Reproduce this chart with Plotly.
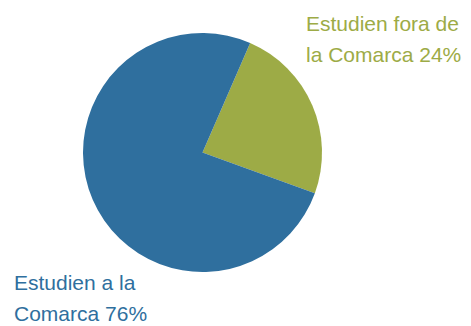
import plotly.graph_objects as go

labels = ["Estudien fora de la Comarca", "Estudien a la Comarca"]
label_lines = [["Estudien fora de", "la Comarca"], ["Estudien a la", "Comarca"]]
values = [24, 76]
colors = ["#9DAB46", "#2F6F9E"]

W, H = 471, 326
cx, cy, r = 202.5, 152.5, 119.5

fig = go.Figure(go.Pie(
    labels=labels,
    values=values,
    marker=dict(colors=colors, line=dict(width=0)),
    sort=False,
    direction="clockwise",
    rotation=23.5,
    textinfo="none",
    hoverinfo="label+percent",
    showlegend=False,
    domain=dict(x=[(cx - r) / W, (cx + r) / W], y=[(H - cy - r) / H, (H - cy + r) / H]),
))

font_family = "Liberation Sans, Arial, sans-serif"
fs = 21
# (left x, baseline of line 1, baseline of line 2)
positions = [(305, 31, 62), (13, 290, 321)]
for lines, v, col, (x, b1, b2) in zip(label_lines, values, colors, positions):
    texts = [lines[0], f"{lines[1]} {v}%"]
    for t, b in zip(texts, (b1, b2)):
        fig.add_annotation(
            text=t,
            x=x / W, y=1 - (b - 7.5) / H, xref="paper", yref="paper",
            xanchor="left", yanchor="middle", align="left", showarrow=False,
            font=dict(family=font_family, size=fs, color=col),
            borderpad=0,
        )

fig.update_layout(
    width=W, height=H,
    margin=dict(l=0, r=0, t=0, b=0),
    paper_bgcolor="white", plot_bgcolor="white",
)
fig.write_html(
    "out.html",
    config={"displayModeBar": False},
    post_script="document.body.style.margin='0';document.body.style.overflow='hidden';",
)
